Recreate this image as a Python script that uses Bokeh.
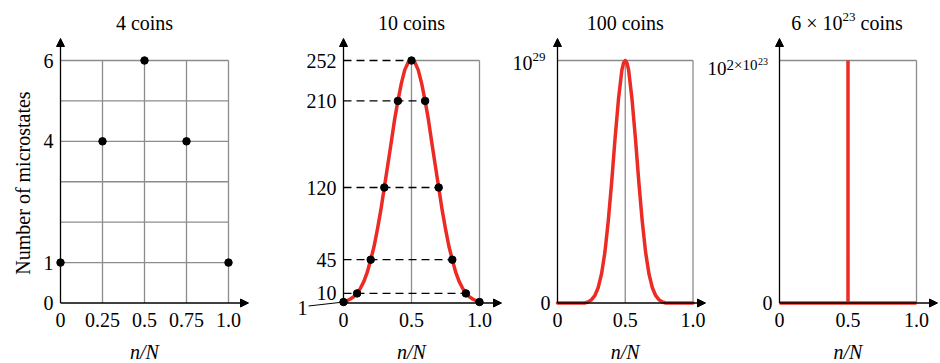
import math
from bokeh.plotting import figure
from bokeh.layouts import row
from bokeh.models import FixedTicker, Arrow, NormalHead, Range1d
from bokeh.core.properties import value
from bokeh.embed import file_html
from bokeh.resources import INLINE

FONT = "Liberation Serif"
RED = "#EC2B24"
GRAY = "#8C8C8C"

# ---------------- data ----------------
# 4 coins
c4_x = [0, 0.25, 0.5, 0.75, 1.0]
c4_y = [1, 4, 6, 4, 1]
c4_grid_x = [0.25, 0.5, 0.75, 1.0]
c4_grid_y = [1, 2, 3, 4, 5, 6]
c4_yticks = [0, 1, 4, 6]
c4_xticks = [0, 0.25, 0.5, 0.75, 1.0]
c4_xlabels = ["0", "0.25", "0.5", "0.75", "1.0"]

# 10 coins
c10_x = [0, 0.1, 0.2, 0.3, 0.4, 0.5, 0.6, 0.7, 0.8, 0.9, 1.0]
c10_y = [1, 10, 45, 120, 210, 252, 210, 120, 45, 10, 1]
c10_curve_x = [0, 0.025, 0.05, 0.075, 0.1, 0.125, 0.15, 0.175, 0.2, 0.225, 0.25,
               0.275, 0.3, 0.325, 0.35, 0.375, 0.4, 0.425, 0.45, 0.475, 0.5,
               0.525, 0.55, 0.575, 0.6, 0.625, 0.65, 0.675, 0.7, 0.725, 0.75,
               0.775, 0.8, 0.825, 0.85, 0.875, 0.9, 0.925, 0.95, 0.975, 1.0]
c10_curve_y = [1, 2.4, 4.2, 6.5, 10, 15.5, 22.5, 32, 45, 59, 77,
               97, 120, 143, 166, 190, 210, 228, 242, 250, 252,
               250, 242, 228, 210, 190, 166, 143, 120, 97, 77,
               59, 45, 32, 22.5, 15.5, 10, 6.5, 4.2, 2.4, 1]
c10_yticks = [10, 45, 120, 210, 252]
c10_xticks = [0, 0.5, 1.0]
x_labels = {0: "0", 0.5: "0.5", 1: "1.0"}

# 100 coins (values in units of 10^29)
c100_curve_x = [0, 0.2, 0.225, 0.25, 0.275, 0.3, 0.325, 0.35, 0.375, 0.4, 0.425, 0.45,
                0.475, 0.4875, 0.5, 0.5125, 0.525, 0.55, 0.575, 0.6, 0.625, 0.65,
                0.675, 0.7, 0.725, 0.75, 0.775, 0.8, 1.0]
c100_curve_y = [0, 0, 0.004, 0.013, 0.03, 0.063, 0.12, 0.21, 0.34, 0.5, 0.68, 0.84,
                0.96, 0.99, 1.0, 0.99, 0.96, 0.84, 0.68, 0.5, 0.34, 0.21,
                0.12, 0.063, 0.03, 0.013, 0.004, 0, 0]

# 6x10^23 coins (values in units of 10^(2x10^23))
big_x = [0, 0.5, 0.5, 0.5, 1.0]
big_y = [0, 0, 1, 0, 0]

titles = ["4 coins", "10 coins", "100 coins"]
ylabel = "Number of microstates"
xlabel = "n/N"

# ---------------- layout helpers ----------------
FIG_TOP = 0
FIG_H = 363
Y0 = 302.5   # picture y of value 0
YT = 60.0    # picture y of top value


def panel(left, width, x0, x1, top):
    sx = x1 - x0

    def X(px):
        return (px - x0) / sx

    def Y(py):
        return (Y0 - py) / (Y0 - YT) * top

    p = figure(width=width, height=FIG_H,
               x_range=Range1d(X(left), X(left + width)),
               y_range=Range1d(Y(FIG_TOP + FIG_H), Y(FIG_TOP)),
               output_backend="svg", toolbar_location=None, min_border=0,
               outline_line_color=None, background_fill_color="white",
               border_fill_color="white")
    p.grid.visible = False
    p.xaxis.fixed_location = 0
    p.yaxis.fixed_location = 0
    for ax in (p.xaxis[0], p.yaxis[0]):
        ax.axis_line_color = None
        ax.major_tick_line_color = None
        ax.minor_tick_line_color = None
        ax.major_tick_in = 0
        ax.major_tick_out = 0
        ax.minor_tick_in = 0
        ax.minor_tick_out = 0
        ax.major_label_text_font = FONT
        ax.major_label_text_font_size = "20px"
        ax.major_label_text_color = "black"
    p.xaxis.major_label_standoff = 10
    p.yaxis.major_label_standoff = 7
    return p, X, Y


def txt(p, x, y, s, size="20px", align="center", style="normal", angle=0.0):
    p.text(x=[x], y=[y], text=[s], text_font=value(FONT),
           text_font_size=value(size), text_align=align,
           text_baseline="middle", text_font_style=style, angle=angle,
           text_color="black")


def arrows(p, X, Y, xtip):
    head = dict(size=8, fill_color="black", line_color="black", line_width=1)
    p.add_layout(Arrow(x_start=0, y_start=0, x_end=0, y_end=Y(38),
                       end=NormalHead(**head), line_width=1.3, line_color="black"))
    p.add_layout(Arrow(x_start=0, y_start=0, x_end=X(xtip), y_end=0,
                       end=NormalHead(**head), line_width=1.3, line_color="black"))


TITLE_Y = 22
XLABEL_Y = 351.5

# ---------------- panel 1: 4 coins ----------------
p1, X1, Y1 = panel(0, 252, 60, 228, max(c4_y))
gx_top = max(c4_grid_y)
gy_right = max(c4_grid_x)
p1.segment(x0=c4_grid_x, y0=[0] * len(c4_grid_x), x1=c4_grid_x, y1=[gx_top] * len(c4_grid_x),
           line_color=GRAY, line_width=1.3)
p1.segment(x0=[0] * len(c4_grid_y), y0=c4_grid_y, x1=[gy_right] * len(c4_grid_y), y1=c4_grid_y,
           line_color=GRAY, line_width=1.3)
arrows(p1, X1, Y1, 248)
p1.scatter(c4_x, c4_y, size=7.5, color="black")
p1.xaxis.ticker = FixedTicker(ticks=c4_xticks)
p1.xaxis.major_label_overrides = {t: l for t, l in zip(c4_xticks, c4_xlabels)}
p1.yaxis.ticker = FixedTicker(ticks=c4_yticks)
txt(p1, 0.5, Y1(TITLE_Y), titles[0])
txt(p1, 0.5, Y1(XLABEL_Y), xlabel, style="italic")
txt(p1, X1(22), Y1(182.5), ylabel, angle=math.pi / 2)

# ---------------- panel 2: 10 coins ----------------
p2, X2, Y2 = panel(252, 252, 343, 479, max(c10_y))
peak = max(c10_y)
peak_x = c10_x[c10_y.index(peak)]
p2.segment(x0=[peak_x, peak_x, 1.0], y0=[0, peak, 0], x1=[peak_x, 1.0, 1.0], y1=[peak, peak, peak],
           line_color=GRAY, line_width=1.3)
dash_end = [max(x for x, y in zip(c10_x, c10_y) if y == lv) for lv in c10_yticks]
p2.segment(x0=[0] * len(c10_yticks), y0=c10_yticks, x1=dash_end, y1=c10_yticks,
           line_color="black", line_width=1.3, line_dash="8 5")
p2.line(c10_curve_x, c10_curve_y, line_color=RED, line_width=3.5, line_join="round", line_cap="round")
arrows(p2, X2, Y2, 501)
p2.scatter(c10_x, c10_y, size=7.5, color="black")
p2.xaxis.ticker = FixedTicker(ticks=c10_xticks)
p2.xaxis.major_label_overrides = x_labels
p2.yaxis.ticker = FixedTicker(ticks=c10_yticks)
# the "1" label with its leader line
p2.segment(x0=[X2(308)], y0=[Y2(305.5)], x1=[0], y1=[c10_y[0]], line_color="black", line_width=1)
txt(p2, X2(302), Y2(307), str(c10_y[0]))
txt(p2, 0.5, Y2(TITLE_Y), titles[1])
txt(p2, 0.5, Y2(XLABEL_Y), xlabel, style="italic")

# ---------------- panel 3: 100 coins ----------------
p3, X3, Y3 = panel(504, 204, 557, 692.5, 1.0)
p3.segment(x0=[0.5, 0, 1.0], y0=[0, 1, 0], x1=[0.5, 1.0, 1.0], y1=[1, 1, 1],
           line_color=GRAY, line_width=1.3)
arrows(p3, X3, Y3, 705)
p3.line(c100_curve_x, c100_curve_y, line_color=RED, line_width=3.5, line_join="round", line_cap="round")
p3.xaxis.ticker = FixedTicker(ticks=c10_xticks)
p3.xaxis.major_label_overrides = x_labels
p3.yaxis.ticker = FixedTicker(ticks=[0])
txt(p3, X3(532), Y3(62.5), "10", align="right")
txt(p3, X3(532), Y3(56), "29", size="13px", align="left")
txt(p3, 0.5, Y3(TITLE_Y), titles[2])
txt(p3, 0.5, Y3(XLABEL_Y), xlabel, style="italic")

# ---------------- panel 4: 6x10^23 coins ----------------
p4, X4, Y4 = panel(708, 232, 779, 916, 1.0)
p4.segment(x0=[0, 1.0], y0=[1, 0], x1=[1.0, 1.0], y1=[1, 1],
           line_color=GRAY, line_width=1.3)
arrows(p4, X4, Y4, 937)
p4.line(big_x, big_y, line_color=RED, line_width=3.5)
p4.xaxis.ticker = FixedTicker(ticks=c10_xticks)
p4.xaxis.major_label_overrides = x_labels
p4.yaxis.ticker = FixedTicker(ticks=[0])
txt(p4, X4(726), Y4(68), "10", size="19px", align="right")
txt(p4, X4(726), Y4(64), "2×10", size="15px", align="left")
txt(p4, X4(757.5), Y4(61), "23", size="10px", align="left")
txt(p4, X4(842), Y4(TITLE_Y), "6 × 10", align="right")
txt(p4, X4(842), Y4(16.5), "23", size="13px", align="left")
txt(p4, X4(860), Y4(TITLE_Y), "coins", align="left")
txt(p4, 0.5, Y4(XLABEL_Y), xlabel, style="italic")

layout = row(p1, p2, p3, p4)
open("out.html", "w").write(file_html(layout, INLINE))
